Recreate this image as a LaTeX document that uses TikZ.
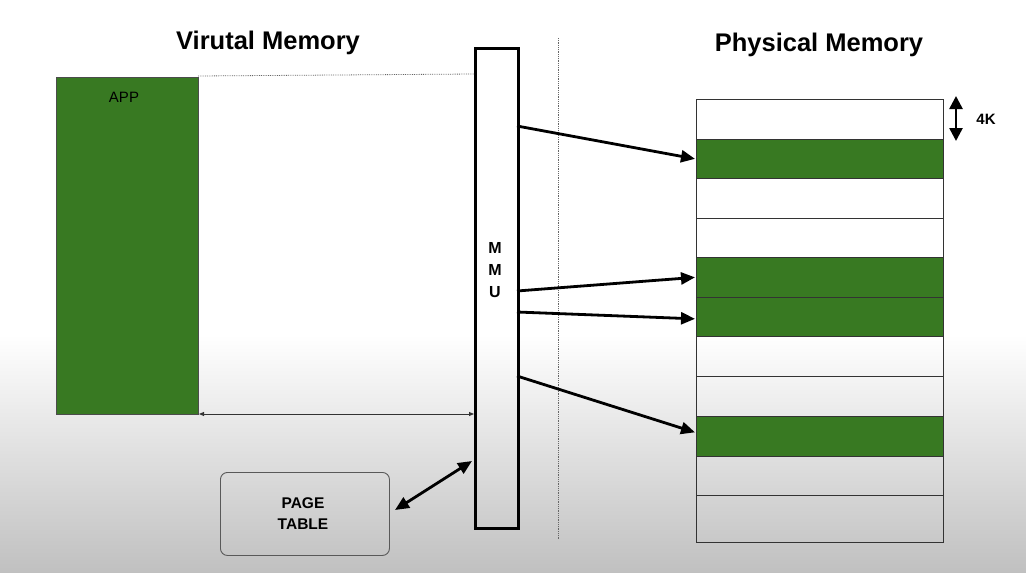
\documentclass[tikz,border=0pt]{standalone}
\usepackage{fontspec}
\setmainfont{Liberation Sans}
\usetikzlibrary{arrows.meta,calc}
\definecolor{appgreen}{RGB}{56,121,34}
\definecolor{bggray}{RGB}{192,192,192}
\begin{document}
\begin{tikzpicture}[x=1pt,y=-1pt,
  box/.style={draw=black!80,line width=1.2pt,inner sep=0pt,anchor=north west,minimum width=247pt,minimum height=39.5pt},
  gbox/.style={box,fill=appgreen},
  title/.style={font=\fontsize{25.5}{28}\selectfont\bfseries},
  maparrow/.style={line width=2.8pt,-{Triangle[length=14pt,width=12pt]}},
  dbl/.style={line width=0.9pt,{Triangle[length=5pt,width=4pt]}-{Triangle[length=5pt,width=4pt]}}]
\useasboundingbox (0,0) rectangle (1026,573);
\fill[white] (0,0) rectangle (1026,335);
\shade[top color=white,bottom color=bggray] (0,335) rectangle (1026,573);
% titles
\node[title] (vtitle) at (268,43) {Virutal Memory};
\node[title] (ptitle) at (819,45) {Physical Memory};
% app
\node[draw=black!70,line width=0.8pt,fill=appgreen,inner sep=0pt,anchor=north west,minimum width=142pt,minimum height=337pt] (app) at (56,77) {};
\node[font=\fontsize{15}{17}\selectfont] (apptext) at (124,97) {APP};
% MMU
\node[draw,line width=3pt,inner sep=0pt,anchor=north west,minimum width=43pt,minimum height=480pt] (mmu) at (474,47) {};
\node[font=\fontsize{16}{22}\selectfont\bfseries,align=center] (mmutext) at (495,270) {M\\M\\U};
% separators
\coordinate (dv1) at (198,76);
\coordinate (dv2) at (474,74);
\draw[densely dotted,line width=0.8pt,black!60] (dv1) -- (dv2);
\coordinate (sv1) at (558,38);
\coordinate (sv2) at (558,540);
\draw[densely dotted,line width=0.8pt,black!60] (sv1) -- (sv2);
\coordinate (ab1) at (199,414);
\coordinate (ab2) at (474,414);
\draw[dbl,black!80] (ab1) -- (ab2);
% physical memory rows
\node[box] (r1) at (696,99) {};
\node[gbox] (r2) at (696,138.5) {};
\node[box] (r3) at (696,178) {};
\node[box] (r4) at (696,217.5) {};
\node[gbox] (r5) at (696,257) {};
\node[gbox] (r6) at (696,296.5) {};
\node[box] (r7) at (696,336) {};
\node[box] (r8) at (696,376) {};
\node[gbox] (r9) at (696,416) {};
\node[box] (r10) at (696,455.5) {};
\node[box,minimum height=47pt] (r11) at (696,495) {};
% 4K
\coordinate (k1) at (956,96);
\coordinate (k2) at (956,141);
\draw[line width=2.6pt,{Triangle[length=13pt,width=13pt]}-{Triangle[length=13pt,width=13pt]}] (k1) -- (k2);
\node[font=\fontsize{15}{18}\selectfont\bfseries] (ktext) at (986,119) {4K};
% mapping arrows
\coordinate (m1) at (517,126);
\coordinate (m2) at (517,291);
\coordinate (m3) at (517,312);
\coordinate (m4) at (517,376);
\draw[maparrow] (m1) -- ($(r2.west)+(-1,0)$);
\draw[maparrow] (m2) -- ($(r5.west)+(-1,0)$);
\draw[maparrow] (m3) -- ($(r6.west)+(-1,2)$);
\draw[maparrow] (m4) -- ($(r9.west)+(-1,-4)$);
% page table
\node[draw=black!65,line width=0.9pt,rounded corners=7pt,inner sep=0pt,anchor=north west,minimum width=169pt,minimum height=83pt] (pt) at (220,472) {};
\node[font=\fontsize{15.5}{21}\selectfont\bfseries,align=center] (pttext) at (303,514) {PAGE\\TABLE};
\coordinate (pa) at (395,510);
\coordinate (pb) at (472,461);
\draw[line width=2.8pt,{Triangle[length=14pt,width=12pt]}-{Triangle[length=14pt,width=12pt]}] (pa) -- (pb);
\end{tikzpicture}
\end{document}
